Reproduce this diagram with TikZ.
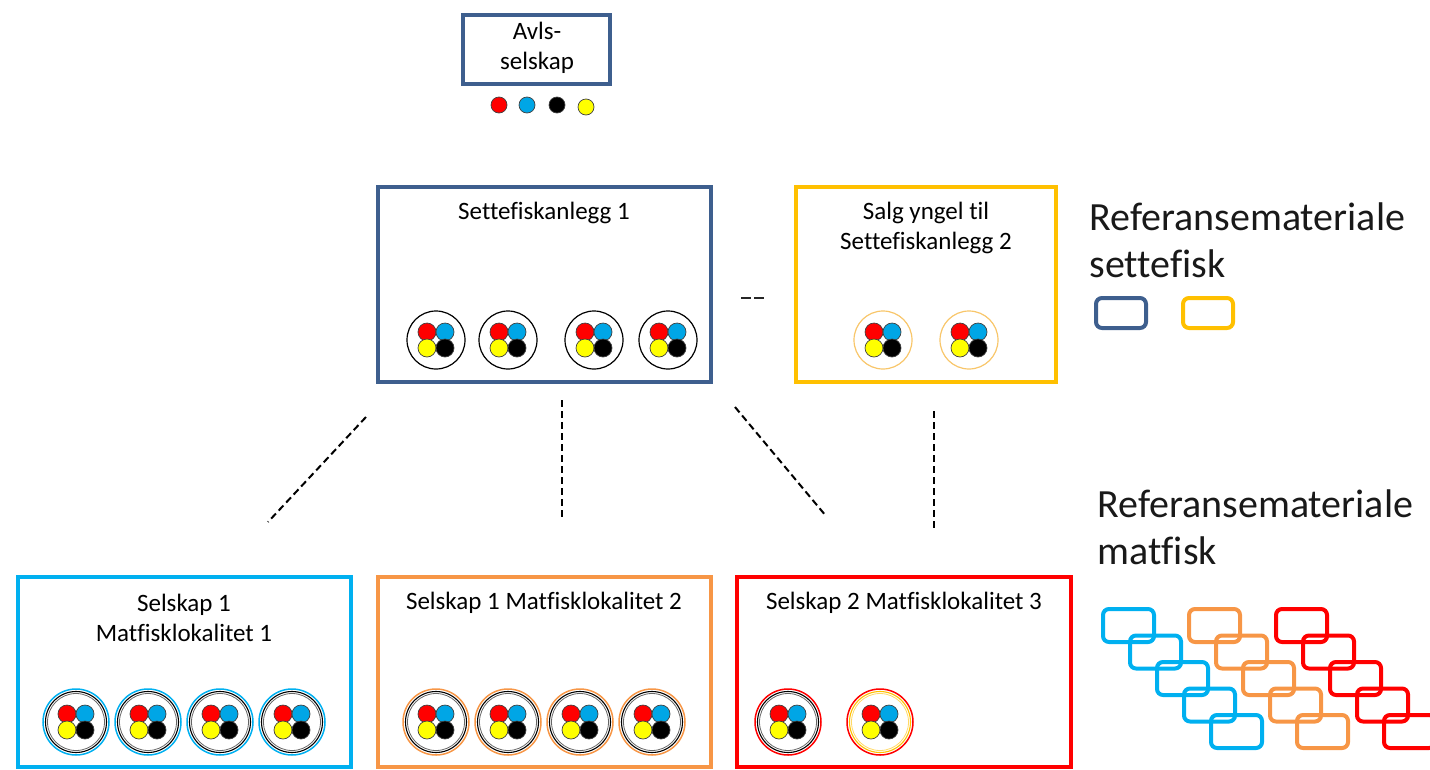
\documentclass[tikz,border=0pt]{standalone}
\usepackage{fontspec}
\setmainfont{Carlito}[Ligatures=NoCommon]
\definecolor{navy}{HTML}{3E5F8E}
\definecolor{gold}{HTML}{FFC000}
\definecolor{lgold}{HTML}{F8C66A}
\definecolor{sky}{HTML}{00B0F0}
\definecolor{orng}{HTML}{F79646}
\definecolor{rd}{HTML}{FF0000}
\definecolor{fblue}{HTML}{00A6E6}
\definecolor{fyel}{HTML}{FFFF00}
\tikzset{
  box/.style={draw=#1, line width=4.5pt},
  lbl/.style={font=\fontsize{25}{30}\selectfont, align=center, text=black},
  big/.style={font=\fontsize{40}{47}\selectfont, align=left, anchor=west, text=black!90},
  dot/.style={draw=black!75, line width=0.7pt},
  link/.style={draw=black, dashed, line width=2pt, dash pattern=on 7pt off 4pt},
  leg/.style={draw=#1, line width=4pt, rounded corners=6pt},
  pics/four/.style={code={
    \fill[red,dot] (-9,-8) circle (9);
    \fill[fblue,dot] (9,-8) circle (9);
    \fill[fyel,dot] (-9,8) circle (9);
    \fill[black,dot] (9,8) circle (9);
  }},
  pics/grpA/.style={code={
    \draw[#1, line width=1.2pt] (0,0) circle (29);
    \pic {four};
  }},
  pics/grpB/.style 2 args={code={
    \draw[#1, line width=1.5pt] (0,0) circle (33);
    \draw[#2, line width=1.1pt] (0,0) circle (30.5);
    \draw[#2!60, line width=0.8pt] (0,0) circle (28.5);
    \pic {four};
  }}
}
\begin{document}
\begin{tikzpicture}[x=1pt,y=-1pt]
\useasboundingbox (0,0) rectangle (1430,769);
% Avls-selskap
\draw[box=navy] (463,15) rectangle (610,84);
\node[lbl] (avls) at (537,48) {Avls-\\selskap};
\fill[red,dot] (499,105) circle (8);
\fill[fblue,dot] (527,105) circle (8);
\fill[black,dot] (557,105) circle (8);
\fill[fyel,dot] (586,107) circle (8);
% Settefiskanlegg 1
\draw[box=navy] (378,187) rectangle (711,382);
\node[lbl] (sf1) at (544,213) {Settefiskanlegg 1};
\foreach \x in {436,508,594,668} \pic at (\x,340) {grpA=black};
% Salg yngel
\draw[box=gold] (796,187) rectangle (1056,382);
\node[lbl] (salg) at (926,228) {Salg yngel til\\Settefiskanlegg 2};
\foreach \x in {883,969} \pic at (\x,340) {grpA=lgold};
% dashes between
\coordinate (da) at (741,298);
\coordinate (db) at (765,298);
\draw[draw=black!85, line width=1.8pt, dash pattern=on 10pt off 3pt] (da) -- (db);
% dashed links
\coordinate (l1a) at (366,417); \coordinate (l1b) at (268,522);
\coordinate (l2a) at (562,400); \coordinate (l2b) at (562,519);
\coordinate (l3a) at (735,407); \coordinate (l3b) at (826,516);
\coordinate (l4a) at (934,411); \coordinate (l4b) at (934,528);
\draw[link] (l1a) -- (l1b);
\draw[link] (l2a) -- (l2b);
\draw[link] (l3a) -- (l3b);
\draw[link] (l4a) -- (l4b);
% Bottom boxes
\draw[box=sky] (18,577) rectangle (351,767);
\node[lbl] (m1) at (184,618) {Selskap 1\\Matfisklokalitet 1};
\foreach \x in {76,148,220,292} \pic at (\x,722) {grpB={sky}{black}};
\draw[box=orng] (378,577) rectangle (711,767);
\node[lbl] (m2) at (544,603) {Selskap 1 Matfisklokalitet 2};
\foreach \x in {436,508,580,652} \pic at (\x,722) {grpB={orng}{black}};
\draw[box=rd] (737,577) rectangle (1071,767);
\node[lbl] (m3) at (904,603) {Selskap 2 Matfisklokalitet 3};
\pic at (788,722) {grpB={rd}{black}};
\pic at (880,722) {grpB={rd}{gold}};
% Legend
\node[big] (ls) at (1086,240) {Referansemateriale\\settefisk};
\draw[leg=navy] (1096,298) rectangle (1146,328);
\draw[leg=gold] (1183,298) rectangle (1233,328);
\node[big] (lm) at (1094,527) {Referansemateriale\\matfisk};
\foreach \c/\x in {sky/1103,orng/1189,rd/1276}{
  \foreach \i in {0,...,4}{
    \draw[leg=\c] (\x+27*\i,609+26.5*\i) rectangle ++(51,33);
  }
}
\end{tikzpicture}
\end{document}
